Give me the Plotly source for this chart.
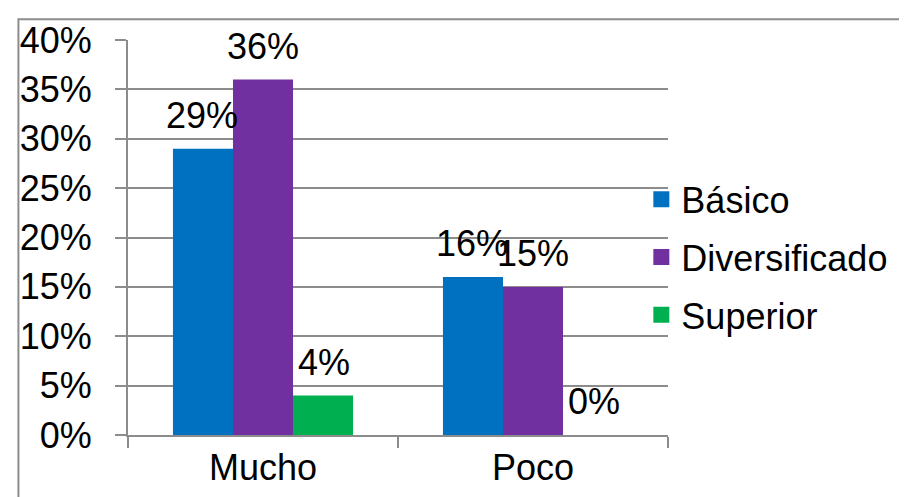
import plotly.graph_objects as go

categories = ["Mucho", "Poco"]
series_names = ["Básico", "Diversificado", "Superior"]
basico = [0.29, 0.16]
diversificado = [0.36, 0.15]
superior = [0.04, 0.00]
colors = ["#0070C0", "#7030A0", "#00B050"]
y_ticks = [0, 0.05, 0.10, 0.15, 0.20, 0.25, 0.30, 0.35, 0.40]
y_tick_labels = ["0%", "5%", "10%", "15%", "20%", "25%", "30%", "35%", "40%"]

values = [basico, diversificado, superior]

W, H = 907, 497
OFF = 8  # page body margin
ml, mt = 121 - OFF, 35 - OFF
plot_right, plot_bottom = 668 - OFF, 435 - OFF
mr, mb = W - plot_right, H - plot_bottom
bargap = 0.333
FONT = "Liberation Sans, Arial, sans-serif"
FS = 36
GRID = "#8c8c8c"

fig = go.Figure()
for i, (name, vals) in enumerate(zip(series_names, values)):
    fig.add_trace(go.Bar(
        name=name, x=categories, y=vals,
        marker=dict(color=colors[i], line=dict(width=0)),
        legendgroup=name, showlegend=False,
    ))
# legend entries with larger square swatches
for i, name in enumerate(series_names):
    fig.add_trace(go.Scatter(
        name=name, x=[None], y=[None], mode="markers",
        marker=dict(symbol="square", size=19, color=colors[i], line=dict(width=0)),
        legendgroup=name, showlegend=True, hoverinfo="skip",
    ))

plot_w = W - ml - mr
plot_h = H - mt - mb
cat_w = plot_w / len(categories)
bar_w = cat_w * (1 - bargap) / len(series_names)

annotations = []
for i, vals in enumerate(values):
    for c, v in zip(categories, vals):
        annotations.append(dict(
            x=c, y=v, xref="x", yref="y",
            text=f"{round(v * 100)}%",
            showarrow=False, yanchor="bottom", xanchor="center",
            xshift=(i - 1) * bar_w, yshift=11,
            font=dict(family=FONT, size=FS, color="black"),
        ))

fig.update_layout(
    width=W, height=H,
    margin=dict(l=ml, r=mr, t=mt, b=mb),
    paper_bgcolor="white", plot_bgcolor="white",
    barmode="group", bargap=bargap, bargroupgap=0,
    font=dict(family=FONT, size=FS, color="black"),
    showlegend=True,
    legend=dict(
        x=(641 - OFF - ml) / plot_w, xanchor="left",
        y=(plot_bottom - (255 - OFF)) / plot_h, yanchor="middle",
        font=dict(family=FONT, size=FS, color="black"),
        tracegroupgap=8, bgcolor="rgba(0,0,0,0)", itemsizing="trace",
    ),
    annotations=annotations,
    xaxis=dict(
        showline=True, linecolor=GRID, linewidth=2,
        ticks="outside", tickson="boundaries", ticklen=11, tickcolor=GRID, tickwidth=2,
        showgrid=False, tickfont=dict(family=FONT, size=FS),
    ),
    yaxis=dict(
        range=[0, 0.40], tickvals=y_ticks, ticktext=y_tick_labels,
        showline=True, linecolor=GRID, linewidth=2,
        ticks="outside", ticklen=11, tickcolor=GRID, tickwidth=2,
        showgrid=True, gridcolor=GRID, gridwidth=2, zeroline=False,
        ticklabelstandoff=16, tickfont=dict(family=FONT, size=FS),
    ),
    shapes=[dict(
        type="rect", xref="paper", yref="paper",
        x0=(10 - OFF - ml) / plot_w, x1=(W + 30 - ml) / plot_w,
        y0=-0.3, y1=(plot_bottom - (14 - OFF)) / plot_h,
        line=dict(color=GRID, width=2), fillcolor="rgba(0,0,0,0)", layer="below",
    )],
)

fig.write_html("out.html")
